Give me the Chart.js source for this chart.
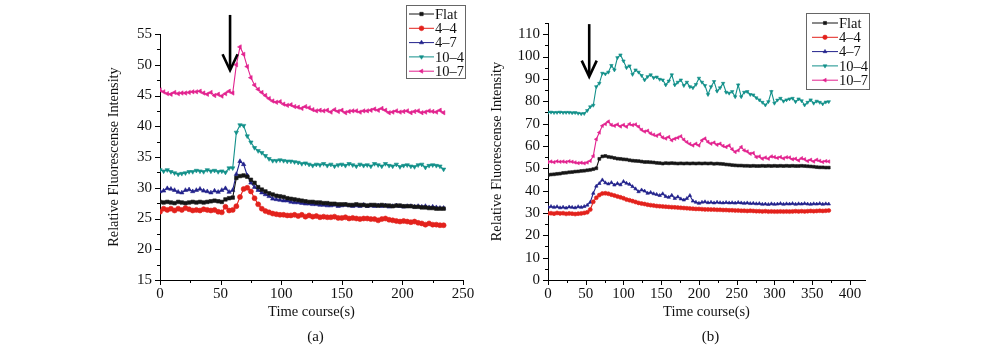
<!DOCTYPE html>
<html>
<head>
<meta charset="utf-8">
<script src="https://cdn.jsdelivr.net/npm/chart.js@4.4.1/dist/chart.umd.min.js"></script>
<style>
  html, body { margin: 0; padding: 0; background: #fff; }
  body { width: 986px; height: 347px; position: relative; overflow: hidden; }
  #chartA { position: absolute; left: 0; top: 0; }
  #chartB { position: absolute; left: 480px; top: 0; }
</style>
</head>
<body>
<canvas id="chartA" width="480" height="347"></canvas>
<canvas id="chartB" width="506" height="347"></canvas>
<script>
// series names, shared by both panels
const seriesNames = ['Flat', '4\u20134', '4\u20137', '10\u20134', '10\u20137'];

// tick labels
const ticksAx = [0, 50, 100, 150, 200, 250];
const ticksAy = [15, 20, 25, 30, 35, 40, 45, 50, 55];
const ticksBx = [0, 50, 100, 150, 200, 250, 300, 350, 400];
const ticksBy = [0, 10, 20, 30, 40, 50, 60, 70, 80, 90, 100, 110];

// ---- panel (a) data, time in s ----
const timeA = [
  0, 3, 6, 9, 12, 15, 18, 21, 24, 27,
  30, 33, 36, 39, 42, 45, 48, 51, 54, 57,
  60, 63, 66, 69, 72, 75, 78, 81, 84, 87,
  90, 93, 96, 99, 102, 105, 108, 111, 114, 117,
  120, 123, 126, 129, 132, 135, 138, 141, 144, 147,
  150, 153, 156, 159, 162, 165, 168, 171, 174, 177,
  180, 183, 186, 189, 192, 195, 198, 201, 204, 207,
  210, 213, 216, 219, 222, 225, 228, 231, 234
];
const flatA = [
  27.7, 27.6, 27.7, 27.6, 27.5, 27.7, 27.6, 27.5, 27.6, 27.7,
  27.6, 27.7, 27.6, 27.7, 27.8, 27.9, 27.8, 27.7, 28.1, 28.3,
  28.4, 31.6, 31.9, 32.0, 31.8, 31.3, 30.8, 30.1, 29.7, 29.4,
  29.1, 28.9, 28.7, 28.6, 28.5, 28.3, 28.2, 28.1, 28.0, 27.9,
  27.8, 27.7, 27.7, 27.6, 27.6, 27.5, 27.5, 27.4, 27.4, 27.3,
  27.3, 27.3, 27.2, 27.2, 27.3, 27.2, 27.2, 27.1, 27.2, 27.2,
  27.1, 27.2, 27.1, 27.1, 27.0, 27.1, 27.1, 27.0, 27.0, 27.0,
  26.9, 26.9, 26.8, 26.8, 26.7, 26.7, 26.6, 26.6, 26.6
];
const s44A = [
  26.1, 26.6, 26.4, 26.6, 26.3, 26.6, 26.4, 26.7, 26.5, 26.3,
  26.4, 26.3, 26.5, 26.4, 26.3, 26.4, 26.1, 26.0, 26.9, 26.3,
  26.4, 27.0, 28.5, 29.8, 30.0, 29.4, 28.3, 27.3, 26.6, 26.2,
  26.0, 25.8, 25.7, 25.6, 25.6, 25.5, 25.5, 25.6, 25.4, 25.6,
  25.3, 25.5, 25.3, 25.4, 25.2, 25.3, 25.2, 25.2, 25.3, 25.1,
  25.1, 25.2, 25.0, 25.1, 25.0, 24.9, 25.0, 25.0, 24.9, 24.9,
  24.7, 24.9, 25.0, 24.8, 24.7, 24.6, 24.5, 24.6, 24.5, 24.4,
  24.5, 24.3, 24.2, 24.0, 24.2, 24.0, 24.0, 23.9, 23.9
];
const s47A = [
  29.4, 29.5, 29.9, 29.8, 29.6, 29.3, 29.2, 29.6, 29.7, 29.4,
  29.6, 29.8, 29.5, 29.4, 29.2, 29.5, 29.3, 29.6, 29.9, 29.3,
  29.6, 32.2, 34.3, 33.8, 32.0, 30.8, 30.1, 29.6, 29.2, 28.9,
  28.6, 28.2, 28.1, 28.0, 27.9, 27.9, 27.7, 27.6, 27.6, 27.5,
  27.4, 27.4, 27.3, 27.3, 27.2, 27.2, 27.1, 27.1, 27.2, 27.0,
  27.1, 27.2, 27.1, 27.0, 27.1, 27.0, 27.2, 27.0, 27.1, 27.0,
  27.1, 27.0, 27.1, 26.9, 27.0, 27.1, 27.0, 26.9, 27.0, 27.0,
  26.9, 27.0, 26.9, 27.0, 26.8, 26.9, 26.8, 26.7, 26.7
];
const s104A = [
  32.9, 32.7, 32.9, 32.6, 32.4, 32.2, 32.3, 32.4, 32.6, 32.6,
  32.8, 32.7, 32.6, 32.9, 32.7, 32.8, 32.6, 32.7, 32.5, 33.2,
  33.2, 39.0, 40.2, 40.1, 38.4, 37.4, 36.5, 36.0, 35.7, 35.2,
  34.7, 34.4, 34.4, 34.5, 34.4, 34.3, 34.3, 34.2, 34.1, 33.9,
  34.0, 33.8, 33.6, 33.8, 33.7, 33.9, 33.6, 33.8, 33.5, 33.7,
  33.8, 33.6, 33.9, 33.7, 33.5, 33.8, 33.6, 33.7, 33.5, 33.9,
  33.7, 33.5, 33.9, 33.6, 33.5, 33.8, 33.4, 33.6, 33.7, 33.5,
  33.4, 33.7, 33.8, 33.3, 33.6, 33.7, 33.6, 33.5, 33.0
];
const s107A = [
  45.9, 45.6, 45.3, 45.2, 45.5, 45.3, 45.4, 45.4, 45.5, 45.6,
  45.6, 45.7, 45.4, 45.2, 45.5, 45.0, 45.2, 44.9, 45.3, 45.7,
  45.4, 50.0, 52.9, 51.7, 49.7, 47.9, 46.7, 46.0, 45.5, 45.0,
  44.5, 44.1, 43.9, 44.0, 43.6, 43.4, 43.5, 43.2, 43.1, 42.9,
  43.2, 43.0, 42.7, 42.5, 42.6, 42.5, 42.6, 42.3, 42.7, 42.4,
  42.6, 42.2, 42.4, 42.5, 42.5, 42.3, 42.5, 42.5, 42.6, 42.8,
  42.6, 42.9, 42.6, 42.2, 42.3, 42.5, 42.3, 42.4, 42.5, 42.2,
  42.4, 42.5, 42.2, 42.3, 42.5, 42.4, 42.3, 42.6, 42.2
];

// ---- panel (b) data ----
const timeB = [
  0, 4, 8, 12, 16, 20, 24, 28, 32, 36,
  40, 44, 48, 52, 56, 60, 64, 68, 72, 76,
  80, 84, 88, 92, 96, 100, 104, 108, 112, 116,
  120, 124, 128, 132, 136, 140, 144, 148, 152, 156,
  160, 164, 168, 172, 176, 180, 184, 188, 192, 196,
  200, 204, 208, 212, 216, 220, 224, 228, 232, 236,
  240, 244, 248, 252, 256, 260, 264, 268, 272, 276,
  280, 284, 288, 292, 296, 300, 304, 308, 312, 316,
  320, 324, 328, 332, 336, 340, 344, 348, 352, 356,
  360, 364, 368, 372
];
const flatB = [
  47.0, 47.2, 47.3, 47.5, 47.6, 47.9, 48.0, 48.2, 48.3, 48.5,
  48.6, 48.8, 48.9, 49.1, 49.3, 49.6, 50.0, 54.2, 55.3, 55.5,
  55.1, 54.9, 54.6, 54.3, 54.2, 54.0, 53.9, 53.6, 53.4, 53.3,
  53.2, 53.0, 52.8, 52.8, 52.7, 52.6, 52.4, 52.3, 52.1, 52.3,
  52.2, 52.3, 52.2, 52.1, 52.2, 52.1, 52.2, 52.1, 52.2, 52.1,
  52.2, 52.1, 52.2, 52.1, 52.2, 52.0, 52.1, 52.0, 51.9, 51.7,
  51.6, 51.4, 51.3, 51.2, 51.2, 51.1, 51.1, 51.0, 51.1, 51.0,
  51.0, 51.1, 51.0, 51.1, 51.0, 51.1, 51.0, 51.1, 51.0, 51.1,
  51.0, 51.1, 51.0, 51.0, 51.1, 51.0, 50.9, 50.8, 50.7, 50.5,
  50.4, 50.4, 50.3, 50.3
];
const s44B = [
  29.8, 29.9, 29.7, 30.0, 29.8, 29.9, 29.6, 29.8, 29.7, 29.5,
  29.7, 29.8, 30.0, 30.3, 31.5, 35.0, 36.8, 38.0, 38.7, 38.8,
  38.6, 38.2, 37.8, 37.4, 37.0, 36.6, 36.0, 35.7, 35.3, 34.9,
  34.5, 34.2, 34.0, 33.7, 33.5, 33.3, 33.1, 33.0, 32.9, 32.8,
  32.7, 32.6, 32.5, 32.4, 32.3, 32.2, 32.1, 32.0, 31.9, 31.8,
  31.8, 31.7, 31.6, 31.6, 31.5, 31.5, 31.4, 31.4, 31.3, 31.3,
  31.2, 31.2, 31.1, 31.1, 31.0, 31.0, 30.9, 31.0, 30.9, 30.8,
  30.8, 30.7, 30.8, 30.6, 30.7, 30.6, 30.6, 30.7, 30.6, 30.7,
  30.6, 30.7, 30.8, 30.7, 30.8, 30.7, 30.8, 30.9, 30.8, 30.9,
  31.0, 30.9, 31.0, 31.1
];
const s47B = [
  32.6, 32.9, 32.5, 32.8, 32.3, 32.6, 32.2, 32.7, 32.5, 32.3,
  32.8, 32.5, 32.9, 33.5, 34.8, 38.8, 42.0, 43.2, 44.8, 43.5,
  43.0, 43.6, 42.5, 43.2, 42.6, 44.1, 43.3, 42.8, 41.8, 40.8,
  39.5, 40.3, 39.8, 38.8, 39.2, 38.6, 38.3, 37.8, 38.6, 37.4,
  37.0, 37.9, 36.5, 37.2, 36.3, 35.8, 36.5, 37.8, 35.3, 34.8,
  34.3, 34.8, 35.0, 34.6, 34.8, 34.5, 34.8, 34.6, 34.5, 34.7,
  34.5, 34.6, 34.4, 34.7, 34.5, 34.3, 34.5, 34.2, 34.3, 34.1,
  34.2, 33.9, 34.0, 33.8, 34.1, 33.9, 34.0, 34.2, 33.9, 34.1,
  34.0, 34.2, 33.9, 34.1, 34.0, 34.2, 34.0, 33.9, 34.1, 34.0,
  34.2, 33.9, 34.1, 34.0
];
const s104B = [
  75.0, 75.1, 74.9, 75.0, 75.1, 74.9, 75.0, 75.0, 74.8, 74.9,
  74.6, 74.4, 74.5, 75.8, 77.5, 78.2, 86.5, 88.0, 92.5, 92.2,
  93.0, 96.0, 94.0, 99.5, 100.7, 98.0, 95.0, 95.8, 92.0, 94.0,
  93.0, 91.5, 89.5, 91.0, 91.8, 90.5, 90.8, 89.8, 89.5, 87.3,
  89.0, 91.8, 87.3, 88.5, 89.5, 87.0, 88.5, 86.5, 86.0, 87.5,
  90.3, 88.5, 87.0, 83.0, 86.5, 88.8, 84.5, 86.0, 88.0, 84.0,
  83.6, 84.3, 82.0, 87.3, 82.0, 84.0, 84.3, 83.0, 82.8, 81.5,
  80.6, 79.5, 78.3, 79.8, 84.3, 79.1, 80.5, 81.3, 80.0, 80.6,
  81.0, 81.3, 79.8, 81.0, 80.2, 78.3, 79.5, 80.6, 79.1, 80.0,
  79.5, 78.8, 79.6, 79.8
];
const s107B = [
  52.8, 53.0, 52.7, 53.1, 52.9, 53.0, 52.8, 53.1, 52.9, 52.6,
  52.3, 52.5, 52.2, 52.6, 53.3, 55.5, 63.0, 66.0, 69.0, 69.8,
  70.9, 69.4, 69.0, 69.6, 68.7, 69.4, 68.6, 69.8, 69.3, 69.6,
  68.6, 67.2, 66.4, 66.8, 65.6, 65.0, 64.5, 65.2, 63.8, 63.3,
  64.0, 62.5, 63.2, 63.7, 64.3, 62.8, 61.7, 60.9, 60.2, 61.0,
  60.2, 62.5, 63.3, 61.8, 61.0, 61.5, 60.5, 61.0, 60.0, 59.5,
  60.2, 58.5, 57.3, 58.0, 59.5, 58.0, 57.5, 56.5, 56.8, 55.0,
  55.3, 54.3, 54.8, 54.3, 55.3, 55.0, 54.6, 55.0, 54.4, 54.9,
  54.8, 54.0, 54.3, 53.5, 54.5, 54.0, 53.2, 53.8, 53.0, 53.8,
  53.3, 52.8, 53.2, 53.0
];

// styles
const seriesColors = ['#151515', '#e3221c', '#22228c', '#12908a', '#e2228e'];
const seriesMarkers = [
  { style: 'rect', rot: 0 },
  { style: 'circle', rot: 0 },
  { style: 'triangle', rot: 0 },
  { style: 'triangle', rot: 180 },
  { style: 'triangle', rot: 270 }
];

const serif = "'Liberation Serif', 'Times New Roman', serif";
Chart.defaults.font.family = serif;
Chart.defaults.color = '#111';

function makeSets(times, lists, radius) {
  return lists.map((vals, i) => ({
    label: seriesNames[i],
    data: vals.map((v, k) => ({ x: times[k], y: v })),
    borderColor: seriesColors[i],
    backgroundColor: seriesColors[i],
    borderWidth: 1.1,
    pointStyle: seriesMarkers[i].style,
    pointRotation: seriesMarkers[i].rot,
    pointRadius: radius,
    pointBorderWidth: 0.6,
    tension: 0
  }));
}

function drawMarker(ctx, i, x, y, r) {
  const m = seriesMarkers[i];
  ctx.fillStyle = seriesColors[i];
  ctx.strokeStyle = seriesColors[i];
  ctx.lineWidth = 0.6;
  if (Chart.helpers && Chart.helpers.drawPoint) {
    Chart.helpers.drawPoint(ctx, { pointStyle: m.style, rotation: m.rot, radius: r, borderWidth: 0.6 }, x, y);
  } else {
    ctx.beginPath();
    ctx.arc(x, y, r, 0, Math.PI * 2);
    ctx.fill();
  }
}

// axis minor ticks, arrow, legend box and panel label
const decorPlugin = {
  id: 'decor',
  afterDraw(chart, args, o) {
    const ctx = chart.ctx;
    const xs = chart.scales.x, ys = chart.scales.y, area = chart.chartArea;
    ctx.save();
    ctx.strokeStyle = '#000';
    ctx.lineWidth = 1;
    const isMajor = (v, step) => Math.abs(v / step - Math.round(v / step)) < 1e-6;
    for (let v = xs.min; v <= xs.max + 1e-6; v += o.minorX) {
      const px = Math.round(xs.getPixelForValue(v)) + 0.5;
      const len = isMajor(v, o.majorX) ? 5 : 3;
      ctx.beginPath();
      ctx.moveTo(px, area.bottom);
      ctx.lineTo(px, area.bottom + len);
      ctx.stroke();
    }
    for (let v = ys.min; v <= ys.max + 1e-6; v += o.minorY) {
      const py = Math.round(ys.getPixelForValue(v)) + 0.5;
      const len = isMajor(v, o.majorY) ? 5 : 3;
      ctx.beginPath();
      ctx.moveTo(area.left, py);
      ctx.lineTo(area.left - len, py);
      ctx.stroke();
    }

    // stimulus arrow
    const ax = xs.getPixelForValue(o.arrow.t);
    const ay1 = ys.getPixelForValue(o.arrow.from);
    const ay2 = ys.getPixelForValue(o.arrow.to);
    ctx.lineWidth = 2.6;
    ctx.lineCap = 'butt';
    ctx.beginPath();
    ctx.moveTo(ax, ay1);
    ctx.lineTo(ax, ay2 - 1);
    ctx.stroke();
    ctx.beginPath();
    ctx.moveTo(ax - 7.5, ay2 - 16);
    ctx.lineTo(ax, ay2);
    ctx.lineTo(ax + 7.5, ay2 - 16);
    ctx.stroke();

    // legend
    const L = o.legend;
    ctx.fillStyle = '#fff';
    ctx.fillRect(L.x, L.y, L.w, L.h);
    ctx.strokeStyle = '#666';
    ctx.lineWidth = 1;
    ctx.strokeRect(L.x + 0.5, L.y + 0.5, L.w, L.h);
    ctx.font = '14.5px ' + serif;
    ctx.textBaseline = 'middle';
    ctx.textAlign = 'left';
    seriesNames.forEach((name, i) => {
      const ry = L.row0 + i * L.rowH;
      ctx.strokeStyle = seriesColors[i];
      ctx.lineWidth = 1;
      ctx.beginPath();
      ctx.moveTo(L.x1, ry);
      ctx.lineTo(L.x2, ry);
      ctx.stroke();
      drawMarker(ctx, i, (L.x1 + L.x2) / 2, ry, L.r);
      ctx.fillStyle = '#111';
      ctx.fillText(name, L.tx, ry + 1);
    });

    // panel label
    ctx.font = '15px ' + serif;
    ctx.fillStyle = '#111';
    ctx.textAlign = 'center';
    ctx.fillText(o.panel, (area.left + area.right) / 2 + 4, 337);
    ctx.restore();
  }
};

function fixedTicks(values) {
  return scale => {
    scale.ticks = values.map(v => ({ value: v }));
  };
}

function makeOptions(cfg) {
  return {
    responsive: false,
    animation: false,
    layout: { padding: cfg.padding },
    plugins: {
      legend: { display: false },
      tooltip: { enabled: false },
      decor: cfg.decor
    },
    scales: {
      x: {
        type: 'linear',
        min: cfg.xMin, max: cfg.xMax,
        afterBuildTicks: fixedTicks(cfg.xTicks),
        afterFit: s => { s.height = 45; },
        ticks: { autoSkip: false, maxRotation: 0, padding: 5, font: { size: 15 }, color: '#111' },
        grid: { display: true, drawOnChartArea: false, drawTicks: false },
        border: { display: true, color: '#000', width: 1 },
        title: { display: true, text: 'Time course(s)', font: { size: 14.5 }, color: '#111', padding: { top: 2, bottom: 4 } }
      },
      y: {
        type: 'linear',
        min: cfg.yMin, max: cfg.yMax,
        afterBuildTicks: fixedTicks(cfg.yTicks),
        afterFit: s => { s.width = cfg.yWidth; },
        ticks: { autoSkip: false, padding: 8, font: { size: 15 }, color: '#111' },
        grid: { display: true, drawOnChartArea: false, drawTicks: false },
        border: { display: true, color: '#000', width: 1 },
        title: { display: true, text: 'Relative Fluorescense Intensity', font: { size: 14.3 }, color: '#111', padding: { top: cfg.yTitlePad, bottom: 4 } }
      }
    }
  };
}

new Chart(document.getElementById('chartA'), {
  type: 'line',
  data: { datasets: makeSets(timeA, [flatA, s44A, s47A, s104A, s107A], 2.5) },
  options: makeOptions({
    padding: { left: 100, right: 17, top: 34, bottom: 22 },
    xMin: 0, xMax: 250, yMin: 15, yMax: 55, yWidth: 60, yTitlePad: 6,
    xTicks: ticksAx, yTicks: ticksAy,
    decor: {
      majorX: 50, minorX: 25, majorY: 5, minorY: 2.5,
      arrow: { t: 57.8, from: 58.1, to: 49.1 },
      legend: { x: 406, y: 5, w: 59, h: 73, row0: 14, rowH: 14.3, x1: 409, x2: 434, tx: 435, r: 2.4 },
      panel: '(a)'
    }
  }),
  plugins: [decorPlugin]
});

new Chart(document.getElementById('chartB'), {
  type: 'line',
  data: { datasets: makeSets(timeB, [flatB, s44B, s47B, s104B, s107B], 2.0) },
  options: makeOptions({
    padding: { left: 6, right: 121, top: 23, bottom: 22 },
    xMin: 0, xMax: 420, yMin: 0, yMax: 115, yWidth: 62, yTitlePad: 3,
    xTicks: ticksBx, yTicks: ticksBy,
    decor: {
      majorX: 50, minorX: 25, majorY: 10, minorY: 5,
      arrow: { t: 54.6, from: 114.5, to: 91.0 },
      legend: { x: 326, y: 13, w: 63, h: 76, row0: 23, rowH: 14.3, x1: 332, x2: 358, tx: 359, r: 2.2 },
      panel: '(b)'
    }
  }),
  plugins: [decorPlugin]
});
</script>
</body>
</html>
